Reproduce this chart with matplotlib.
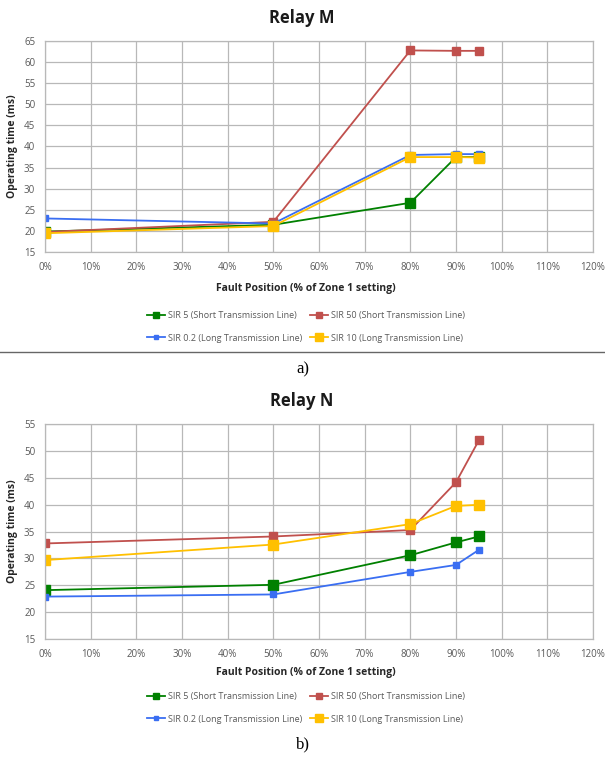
import matplotlib.pyplot as plt
from matplotlib.lines import Line2D

W, H = 605, 758

fault_pos = [0, 50, 80, 90, 95]
labels = ["SIR 5 (Short Transmission Line)", "SIR 50 (Short Transmission Line)",
          "SIR 0.2 (Long Transmission Line)", "SIR 10 (Long Transmission Line)"]
colors = ["#008000", "#c0504d", "#3a6ef2", "#ffc000"]

# Relay M operating times (ms)
m_sir5 = [19.9, 21.5, 26.7, 37.5, 37.5]
m_sir50 = [19.8, 22.2, 62.7, 62.6, 62.6]
m_sir02 = [23.0, 21.8, 38.0, 38.2, 38.2]
m_sir10 = [19.5, 21.2, 37.5, 37.5, 37.4]

# Relay N operating times (ms)
n_sir5 = [24.1, 25.1, 30.6, 33.0, 34.1]
n_sir50 = [32.8, 34.1, 35.3, 44.2, 52.0]
n_sir02 = [22.9, 23.3, 27.5, 28.8, 31.6]
n_sir10 = [29.7, 32.6, 36.4, 39.8, 40.0]

xticks = list(range(0, 121, 10))
xticklabels = [f"{t}%" for t in xticks]

marker_sizes = [7, 6, 5, 7.5]

plt.rcParams['font.family'] = ['Open Sans', 'DejaVu Sans']

fig = plt.figure(figsize=(W / 100, H / 100), dpi=100)


def px(x, y):
    return x / W, 1 - y / H


def draw_panel(top, bottom, series, ymin, ymax, title, title_y, xlabel_y, legend_y, caption, caption_y):
    ax = fig.add_axes([45 / W, 1 - bottom / H, 548 / W, (bottom - top) / H])
    for vals, c, ms, lab in zip(series, colors, marker_sizes, labels):
        ax.plot(fault_pos, vals, color=c, lw=1.3, marker='s', ms=ms, label=lab)
    ax.set_xlim(0, 120)
    ax.set_ylim(ymin, ymax)
    ax.set_xticks(xticks)
    ax.set_xticklabels(xticklabels)
    ax.set_yticks(range(ymin, ymax + 1, 5))
    ax.grid(True, color="#b8b8b8", lw=0.9)
    ax.set_axisbelow(True)
    for s in ax.spines.values():
        s.set_color("#b8b8b8")
        s.set_linewidth(0.9)
    ax.tick_params(length=0, labelsize=7, colors="#595959", pad=7)
    ax.set_ylabel("Operating time (ms)", fontsize=7.5, fontweight='bold', color="#262626", labelpad=4)

    fig.text(*px(302, title_y), title, ha='center', va='center', fontsize=12, fontweight='bold', color="#1a1a1a")
    fig.text(*px(306, xlabel_y), "Fault Position (% of Zone 1 setting)", ha='center', va='center',
             fontsize=7.5, fontweight='bold', color="#262626")

    h, l = ax.get_legend_handles_labels()
    order = [0, 2, 1, 3]
    fig.legend([h[i] for i in order], [l[i] for i in order], ncol=2, loc='center',
               bbox_to_anchor=px(306, legend_y), frameon=False, fontsize=6.5,
               labelcolor="#595959", handlelength=2.0, handletextpad=0.3,
               columnspacing=0.9, labelspacing=1.45, markerscale=0.7)

    fig.text(*px(303, caption_y), caption, ha='center', va='center', fontsize=12,
             family='Liberation Serif', color="black")
    return ax


draw_panel(40.7, 252.3, [m_sir5, m_sir50, m_sir02, m_sir10], 15, 65,
           "Relay M", 18, 289, 327, "a)", 369)
draw_panel(424.3, 639, [n_sir5, n_sir50, n_sir02, n_sir10], 15, 55,
           "Relay N", 401, 672, 708, "b)", 744)

# separator between the two panels
fig.add_artist(Line2D([0, 1], [1 - 352 / H, 1 - 352 / H], transform=fig.transFigure,
                      color="#666666", lw=1))

fig.savefig("out.png", dpi=100)
